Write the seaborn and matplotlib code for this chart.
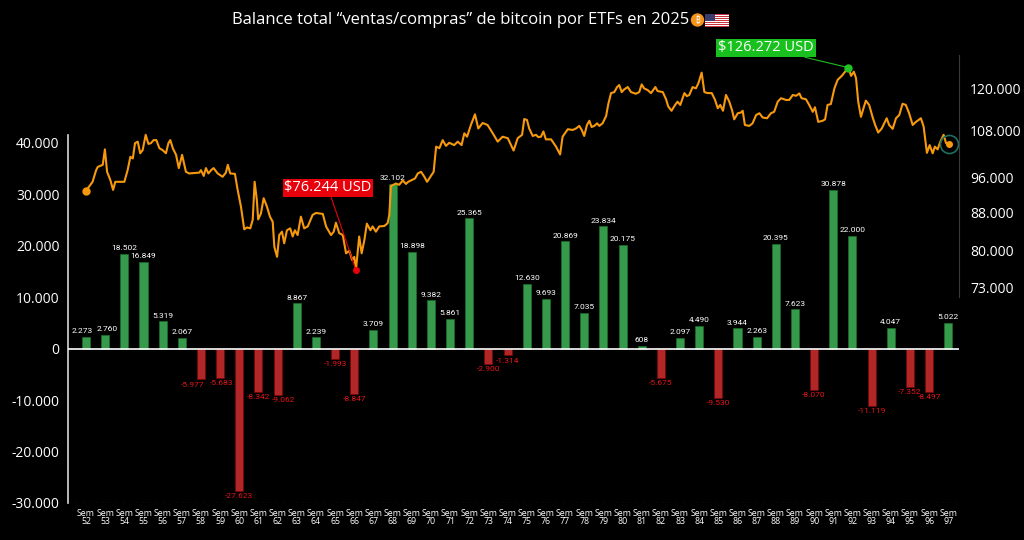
import numpy as np
import pandas as pd
import matplotlib
matplotlib.use('Agg')
import matplotlib.pyplot as plt
import seaborn as sns
from matplotlib.patches import Ellipse, Rectangle
from matplotlib.ticker import NullLocator

# Weekly ETF balance (BTC), Sem 52 .. Sem 97.
weeks = list(range(52, 98))
flows = [2273, 2760, 18502, 16849, 5319, 2067, -5977, -5683, -27623, -8342,
         -9062, 8867, 2239, -1993, -8847, 3709, 32102, 18898, 9382, 5861,
         25365, -2900, -1314, 12630, 9693, 20869, 7035, 23834, 20175, 608,
         -5675, 2097, 4490, -9530, 3944, 2263, 20395, 7623, -8070, 30878,
         22000, -11119, 4047, -7352, -8497, 5022]

# Bitcoin price (thousand USD); days since the first point.
price_day = [0.0, 2.4, 3.7, 4.3, 6.1, 6.9, 7.7, 8.9, 9.9, 10.7, 14.0, 15.2, 16.2, 17.1,
             17.9, 18.9, 19.8, 20.7, 21.8, 22.8, 23.7, 24.7, 25.7, 26.8, 28.0, 29.2,
             30.1, 30.8, 31.7, 32.9, 33.9, 35.1, 36.5, 37.7, 41.4, 42.0, 43.0, 43.8,
             44.7, 45.7, 46.6, 48.1, 49.9, 51.1, 51.8, 52.7, 54.4, 55.4, 56.6, 57.8,
             58.8, 60.0, 60.9, 61.6, 62.4, 62.9, 63.9, 64.9, 66.1, 67.2, 68.2, 68.8,
             69.8, 70.6, 71.6, 72.4, 73.4, 74.6, 75.5, 76.3, 77.3, 78.5, 79.7, 81.0,
             82.8, 84.0, 86.5, 87.7, 89.5, 90.5, 91.3, 92.5, 93.8, 95.0, 96.2, 97.2,
             98.0, 98.6, 99.8, 100.7, 101.7, 102.6, 103.9, 104.7, 105.9, 107.1, 109.0,
             110.2, 110.8, 111.4, 113.2, 114.4, 115.7, 116.9, 117.7, 119.0, 120.2,
             121.2, 122.4, 123.6, 124.6, 125.8, 127.0, 127.9, 129.1, 130.3, 131.5,
             132.7, 134.5, 135.8, 137.2, 138.2, 139.2, 140.6, 142.1, 143.3, 144.9,
             146.7, 148.6, 150.4, 152.2, 154.1, 156.2, 157.7, 159.3, 160.1, 161.1,
             161.9, 163.2, 164.4, 165.2, 166.2, 167.1, 168.0, 169.9, 171.7, 173.2,
             174.1, 176.0, 177.8, 179.0, 180.2, 181.1, 182.0, 183.0, 183.9, 184.7,
             185.7, 186.7, 187.5, 188.7, 190.0, 190.8, 191.8, 193.0, 194.0, 194.8,
             195.7, 196.6, 197.9, 199.1, 200.9, 202.1, 203.0, 203.9, 205.2, 206.4,
             208.0, 208.8, 210.7, 211.9, 212.7, 213.9, 215.2, 216.1, 217.1, 218.6,
             219.5, 220.4, 221.6, 222.8, 223.7, 224.9, 225.9, 227.1, 228.6, 229.8,
             230.8, 231.7, 232.7, 233.8, 235.0, 236.0, 236.8, 238.1, 239.3, 239.9,
             240.7, 242.3, 243.5, 244.8, 246.0, 247.2, 248.8, 250.2, 251.4, 252.7,
             253.9, 255.7, 256.9, 258.2, 259.4, 260.6, 261.4, 263.0, 264.2, 265.5,
             266.3, 267.5, 269.1, 270.0, 270.9, 272.1, 273.4, 274.6, 276.1, 277.3,
             278.5, 279.5, 280.5, 281.3, 282.1, 283.1, 284.1, 284.9, 286.1, 287.4,
             288.3, 289.4, 290.7, 291.6, 292.5, 293.4, 294.7, 295.9, 297.1, 298.3,
             299.5, 300.7, 302.0, 303.2, 305.0, 306.0, 307.2, 308.2, 309.3, 310.1,
             311.1, 312.1, 313.3, 314.2, 315.4]
price_k = [92.9, 95.0, 97.8, 98.6, 99.1, 103.0, 97.4, 95.4, 93.1, 95.0, 95.0, 97.8, 101.1, 100.7,
           104.6, 105.0, 102.0, 102.8, 106.8, 104.4, 104.6, 105.4, 105.4, 103.3, 102.8, 102.0,
           104.6, 105.4, 103.3, 101.6, 98.3, 101.6, 97.4, 97.0, 97.2, 97.8, 96.4, 98.3,
           97.0, 97.8, 98.3, 97.0, 96.2, 97.2, 99.1, 97.0, 96.9, 93.1, 89.3, 84.4,
           84.8, 84.6, 86.4, 95.0, 90.8, 86.5, 87.8, 91.2, 89.3, 87.1, 86.0, 80.8,
           78.8, 83.2, 83.9, 81.5, 84.2, 84.6, 82.9, 84.2, 83.2, 87.1, 84.6, 85.0,
           87.5, 87.9, 87.7, 85.0, 83.2, 83.9, 85.8, 83.6, 83.2, 79.5, 80.0, 78.2,
           78.8, 76.244, 82.9, 79.5, 82.2, 85.6, 84.2, 85.0, 83.9, 85.0, 85.1,
           85.7, 87.5, 94.0, 94.6, 94.3, 95.3, 94.5, 95.0, 95.4, 95.8,
           97.0, 97.4, 96.2, 95.0, 96.2, 97.4, 103.7, 103.3, 105.4, 103.9,
           104.7, 104.1, 105.0, 104.1, 107.2, 106.3, 109.45, 112.4, 108.5, 110.0,
           109.45, 107.2, 105.0, 106.3, 105.9, 102.7, 105.9, 106.8, 111.1, 110.8,
           108.5, 106.5, 106.8, 106.2, 106.3, 107.7, 105.6, 105.6, 103.7, 101.7,
           106.3, 108.3, 108.1, 108.5, 109.2, 108.1, 106.5, 109.45, 110.6, 108.9,
           109.2, 109.9, 109.2, 109.9, 111.9, 115.3, 118.5, 118.8, 120.3, 120.9,
           118.8, 119.6, 120.3, 118.8, 118.3, 118.8, 121.1, 119.9, 119.4, 118.5,
           120.3, 119.1, 118.8, 116.7, 114.6, 113.4, 115.05, 116.0, 115.05, 118.5,
           117.6, 117.96, 120.3, 119.9, 121.4, 124.7, 118.8, 118.5, 118.5, 116.5,
           114.1, 115.05, 113.4, 117.96, 116.0, 113.6, 111.0, 112.7, 112.9, 113.4,
           109.45, 109.2, 109.9, 112.2, 112.7, 111.5, 111.3, 112.7, 113.1, 116.0,
           117.0, 116.5, 116.5, 117.96, 117.7, 118.4, 117.0, 116.7, 115.05, 113.1,
           114.4, 110.3, 110.6, 111.0, 115.05, 115.3, 119.9, 122.5, 123.7, 125.0,
           126.272, 123.7, 125.0, 123.0, 116.0, 111.7, 114.3, 116.3, 115.05, 111.5,
           109.45, 107.4, 108.5, 109.9, 111.3, 109.45, 108.4, 111.3, 112.2, 115.4,
           115.05, 112.7, 109.45, 110.3, 111.3, 109.0, 102.1, 104.1, 102.0, 103.7,
           103.0, 105.0, 106.8, 104.6, 104.4]

price_ticks = [73000, 80000, 88000, 96000, 108000, 120000]
left_ticks = [-30000, -20000, -10000, 0, 10000, 20000, 30000, 40000]
title = 'Balance total \u201cventas/compras\u201d de bitcoin por ETFs en 2025'


def fmt(v):
  return '{:,}'.format(int(v)).replace(',', '.')


# Data frames.
bars = pd.DataFrame({'pos': np.arange(len(weeks)), 'flow': flows})
bars['sign'] = np.where(bars['flow'] >= 0, 'pos', 'neg')
price = pd.DataFrame({'x': np.array(price_day) / 7.0, 'usd': np.array(price_k) * 1000})

# Style.
sns.set_style('ticks')
plt.rcParams['font.family'] = ['Open Sans', 'DejaVu Sans']
plt.rcParams['figure.facecolor'] = 'black'
plt.rcParams['axes.facecolor'] = 'black'
label_font = ['Roboto', 'DejaVu Sans']

W, H = 1024, 540
fig = plt.figure(figsize=(W / 100, H / 100), dpi=100)
xlim = (-0.94, 45.56)

# Bars axis.
ax = fig.add_axes([68 / W, 1 - 503 / H, (959 - 68) / W, (503 - 135) / H])
green, red = '#27a943', '#c80f0f'
sns.barplot(data=bars, x='pos', y='flow', hue='sign', palette={'pos': green, 'neg': red},
            dodge=False, width=0.42, legend=False, ax=ax, order=list(range(len(weeks))))
for patch in ax.patches:
  if patch.get_height() == 0:
    continue
  patch.set_edgecolor('#147a28' if patch.get_facecolor()[1] > 0.4 else '#8a0000')
  patch.set_linewidth(0.4)

# Value labels; a few are nudged sideways so neighbours don't collide.
nudge = {0: -0.2, 1: 0.1, 6: -0.45, 7: 0.05, 10: 0.3}
for i, v in enumerate(flows):
  x = i + nudge.get(i, 0)
  if v >= 0:
    ax.text(x, v + 500, fmt(v), ha='center', va='bottom', color='white', fontsize=6.0,
            family=label_font)
  else:
    ax.text(x, v - 400, fmt(v), ha='center', va='top', color='#e4151b', fontsize=6.0,
            family=label_font)

ax.set_xlim(xlim)
ax.set_ylim(-30000, 41550)
ax.set_yticks(left_ticks)
ax.set_yticklabels([fmt(t) for t in left_ticks], color='white', fontsize=10)
ax.set_xticks(range(len(weeks)))
ax.set_xticklabels(['Sem\n{}'.format(w) for w in weeks], color='white', fontsize=6.3,
                   linespacing=0.95)
ax.tick_params(axis='both', length=0)
ax.tick_params(axis='x', pad=4)
ax.tick_params(axis='y', pad=6)
ax.set_xlabel('')
ax.set_ylabel('')
for s in ['top', 'right', 'bottom']:
  ax.spines[s].set_visible(False)
ax.spines['left'].set_color('#d8d8d8')
ax.spines['left'].set_linewidth(1.2)
ax.axhline(0, color='white', lw=1.2, zorder=3)
ax.axhline(-30000, color='#777777', lw=0.8, ls=(0, (3, 3)), zorder=3)

# Price axis (log scale).
ax2 = fig.add_axes([68 / W, 1 - 297 / H, (959 - 68) / W, (297 - 55) / H])
ax2.patch.set_alpha(0)
sns.lineplot(data=price, x='x', y='usd', color='#f7990c', lw=1.5, ax=ax2)
ax2.set_yscale('log')
ax2.set_ylim(71300, 130300)
ax2.set_xlim(xlim)
ax2.yaxis.tick_right()
ax2.set_yticks(price_ticks)
ax2.set_yticklabels([fmt(t) for t in price_ticks], color='white', fontsize=10)
ax2.yaxis.set_minor_locator(NullLocator())
ax2.tick_params(axis='y', length=0, pad=8)
ax2.set_xticks([])
ax2.set_xlabel('')
ax2.set_ylabel('')
for s in ['top', 'left', 'bottom']:
  ax2.spines[s].set_visible(False)
ax2.spines['right'].set_color('#3a3a3a')

# First / last markers.
ax2.plot(price['x'].iloc[0], price['usd'].iloc[0], 'o', color='#f7990c', ms=5)
ax2.plot(price['x'].iloc[-1], price['usd'].iloc[-1], 'o', color='#f7990c', ms=4)
ax2.plot(price['x'].iloc[-1], price['usd'].iloc[-1], 'o', mfc='none', mec='#1f6f5f', ms=13, mew=1.2)

# Low and high annotations.
lo = price['usd'].idxmin()
hi = price['usd'].idxmax()
ax2.plot(price['x'][lo], price['usd'][lo], 'o', color='#e8000b', ms=4, zorder=5)
ax2.plot(price['x'][hi], price['usd'][hi], 'o', color='#22c322', ms=5, zorder=5)
ax2.annotate('${} USD'.format(fmt(price['usd'][lo])), xy=(price['x'][lo], price['usd'][lo]),
             xytext=(328, H - 188), textcoords='figure pixels', ha='center', va='center',
             color='white', fontsize=10.5,
             bbox=dict(boxstyle='square,pad=0.12', fc='#e8000b', ec='none'),
             arrowprops=dict(arrowstyle='-', color='#e8000b', lw=0.8, shrinkA=0, shrinkB=0))
ax2.annotate('${} USD'.format(fmt(price['usd'][hi])), xy=(price['x'][hi], price['usd'][hi]),
             xytext=(766, H - 48), textcoords='figure pixels', ha='center', va='center',
             color='white', fontsize=10.5,
             bbox=dict(boxstyle='square,pad=0.12', fc='#19c11e', ec='none'),
             arrowprops=dict(arrowstyle='-', color='#19c11e', lw=0.8, shrinkA=0, shrinkB=0))

# Title with bitcoin badge and flag.
fig.text(461 / W, 1 - 20 / H, title, ha='center', va='center', color='white', fontsize=12)
fig.add_artist(Ellipse((697.5 / W, 1 - 20 / H), 12 / W, 12 / H, color='#f7931a',
                       transform=fig.transFigure))
fig.text(697.5 / W, 1 - 20.5 / H, '\u20bf', ha='center', va='center', color='white', fontsize=6,
         family=['Noto Sans', 'Roboto', 'Inter', 'Lato', 'Open Sans', 'Liberation Sans',
                 'DejaVu Sans'])
fx, fy, fw, fh = 705, 14, 24, 13
for k in range(13):
  col = '#c8323c' if k % 2 == 0 else 'white'
  fig.add_artist(Rectangle((fx / W, 1 - (fy + (k + 1) * fh / 13) / H), fw / W, fh / 13 / H,
                           color=col, transform=fig.transFigure, lw=0))
fig.add_artist(Rectangle((fx / W, 1 - (fy + 7 * fh / 13) / H), 10 / W, 7 * fh / 13 / H,
                         color='#3c3b6e', transform=fig.transFigure, lw=0))

fig.savefig('out.png', dpi=100, facecolor='black')
